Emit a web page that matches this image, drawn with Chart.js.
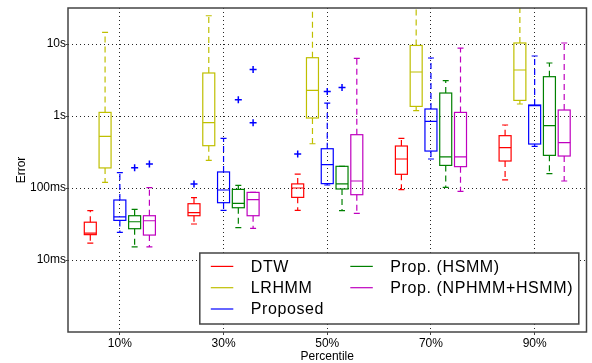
<!DOCTYPE html>
<html><head><meta charset="utf-8">
<script src="https://cdn.jsdelivr.net/npm/chart.js@4/dist/chart.umd.min.js"></script>
<style>html,body{margin:0;padding:0;background:#fff}#wrap{width:592px;height:363px}</style>
</head><body><div id="wrap"><canvas id="c" width="592" height="363"></canvas></div>
<script>
// ---- data (values in milliseconds) ----
const percentiles = [10, 30, 50, 70, 90];
const percentileLabels = ['10%', '30%', '50%', '70%', '90%'];
const yTickValues = [10, 100, 1000, 10000];
const yTickLabels = ['10ms', '100ms', '1s', '10s'];
const seriesNames = ['DTW', 'LRHMM', 'Proposed', 'Prop. (HSMM)', 'Prop. (NPHMM+HSMM)'];
const seriesColors = ['#ff0000', '#bfbf00', '#0000ff', '#008000', '#bf00bf'];
// each row: [whiskerLow, q1, median, q3, whiskerHigh] for one percentile
const dtw = [
  [17.2, 22.5, 23.6, 33.5, 48.4],
  [31.6, 41.2, 45.4, 60.5, 73.3],
  [48.9, 74.1, 100, 114, 156],
  [94.7, 155, 253, 383, 489],
  [130, 237, 363, 533, 750]
];
const lrhmm = [
  [120, 190, 521, 1122, 14500],
  [242, 387, 807, 3956, 24700],
  [412, 938, 2268, 6450, 60000],
  [1185, 1359, 4083, 9550, 60000],
  [1468, 1647, 4355, 10330, 60000]
];
const proposed = [
  [24.2, 35.5, 39.6, 68.1, 163],
  [48.9, 62.5, 93.8, 167, 489],
  [110, 115, 211, 351, 1514],
  [253, 326, 841, 1251, 6390],
  [378, 408, 1390, 1422, 6810]
];
const propHsmm = [
  [15.2, 27.2, 34.0, 41.2, 50.5],
  [28.1, 53.2, 61.1, 95.6, 109],
  [48.4, 96.9, 114, 200, 200],
  [102, 206, 270, 2085, 3090],
  [158, 284, 733, 3515, 5445]
];
const propNphmmHsmm = [
  [15.2, 22.2, 35.1, 41.2, 101],
  [27.5, 41.2, 68.8, 86.9, 86.9],
  [44.4, 80.7, 125, 550, 6310],
  [89.7, 198, 270, 1122, 8790],
  [125, 278, 426, 1211, 10330]
];
// outliers: [percentileIndex, seriesIndex, value]
const fliers = [
  [0, 3, 191], [0, 4, 215],
  [1, 0, 114], [1, 3, 1683], [1, 4, 4440], [1, 4, 807],
  [2, 0, 297], [2, 2, 2196], [2, 3, 2496]
];
const seriesStats = [dtw, lrhmm, proposed, propHsmm, propNphmmHsmm];

// ---- layout/style ----
const seriesOffset = [-5.7, -2.85, 0, 2.85, 5.7]; // x-units within a group
const BOX_HALF = 6, CAP_HALF = 3;
const FONT = "'Liberation Sans', Arial, sans-serif";

const boxPlugin = {
  id: 'boxes',
  beforeDatasetsDraw(chart) {
    const ctx = chart.ctx, xs = chart.scales.x, ys = chart.scales.y, a = chart.chartArea;
    ctx.save();
    ctx.beginPath(); ctx.rect(a.left, a.top, a.right - a.left, a.bottom - a.top); ctx.clip();
    seriesStats.forEach((stats, si) => {
      ctx.strokeStyle = seriesColors[si];
      ctx.lineWidth = 1.2;
      stats.forEach((s, pi) => {
        const cx = xs.getPixelForValue(percentiles[pi] + seriesOffset[si]);
        const [lo, q1, med, q3, hi] = s.map(v => ys.getPixelForValue(v));
        ctx.setLineDash([6, 4]);
        ctx.beginPath();
        ctx.moveTo(cx, q3); ctx.lineTo(cx, hi);
        ctx.moveTo(cx, q1); ctx.lineTo(cx, lo);
        ctx.stroke();
        ctx.setLineDash([]);
        ctx.beginPath();
        ctx.moveTo(cx - CAP_HALF, hi); ctx.lineTo(cx + CAP_HALF, hi);
        ctx.moveTo(cx - CAP_HALF, lo); ctx.lineTo(cx + CAP_HALF, lo);
        ctx.stroke();
        ctx.strokeRect(cx - BOX_HALF, q3, BOX_HALF * 2, q1 - q3);
        ctx.beginPath();
        ctx.moveTo(cx - BOX_HALF, med); ctx.lineTo(cx + BOX_HALF, med);
        ctx.stroke();
      });
    });
    ctx.restore();
  },
  afterDraw(chart) {
    const ctx = chart.ctx, a = chart.chartArea;
    ctx.save();
    ctx.strokeStyle = '#444'; ctx.lineWidth = 1.5;
    ctx.strokeRect(a.left, a.top, a.right - a.left, a.bottom - a.top);
    const lw = 379, lh = 71;
    const lx = a.right - 7.7 - lw, ly = a.bottom - 8 - lh;
    ctx.fillStyle = '#fff';
    ctx.fillRect(lx, ly, lw, lh);
    ctx.strokeStyle = '#444'; ctx.lineWidth = 1.5;
    ctx.strokeRect(lx, ly, lw, lh);
    ctx.font = '16px ' + FONT;
    try { ctx.letterSpacing = '0.6px'; } catch (e) {}
    ctx.textBaseline = 'middle';
    ctx.fillStyle = '#000';
    seriesNames.forEach((name, i) => {
      const col = i < 3 ? 0 : 1, row = i < 3 ? i : i - 3;
      const colX = col === 0 ? 0 : 139.5;
      const y = ly + 13.4 + row * 21.3;
      ctx.strokeStyle = seriesColors[i]; ctx.lineWidth = 1.2;
      ctx.beginPath();
      ctx.moveTo(lx + 11 + colX, y); ctx.lineTo(lx + 33.5 + colX, y);
      ctx.stroke();
      ctx.fillText(name, lx + 51 + colX, y + 1);
    });
    ctx.restore();
  }
};

new Chart(document.getElementById('c'), {
  type: 'scatter',
  data: {
    datasets: [{
      label: 'outliers',
      data: fliers.map(f => ({ x: percentiles[f[0]] + seriesOffset[f[1]], y: f[2] })),
      pointStyle: 'cross',
      pointRadius: 3.5,
      borderColor: '#0000ff',
      borderWidth: 1.5
    }]
  },
  options: {
    responsive: false,
    animation: false,
    layout: { padding: { top: 8, right: 2, left: 0, bottom: 0 } },
    plugins: { legend: { display: false }, tooltip: { enabled: false } },
    scales: {
      x: {
        type: 'linear', min: 0, max: 100,
        afterBuildTicks: s => { s.ticks = percentiles.map(v => ({ value: v })); },
        afterFit: s => { s.height = 31; },
        ticks: {
          autoSkip: false, maxRotation: 0, padding: 1, color: '#000',
          font: { family: FONT, size: 12 },
          callback: v => percentileLabels[percentiles.indexOf(v)]
        },
        grid: { color: 'rgba(0,0,0,0.85)', lineWidth: 1, tickLength: 3, tickColor: '#444' },
        border: { display: false, dash: [1, 3] },
        title: { display: true, text: 'Percentile', color: '#000', font: { family: FONT, size: 12 }, padding: { top: 0, bottom: -1 } }
      },
      y: {
        type: 'logarithmic', min: 1, max: 31622.8,
        afterBuildTicks: s => { s.ticks = yTickValues.map(v => ({ value: v })); },
        afterFit: s => { s.width = 68; },
        ticks: {
          autoSkip: false, padding: 0, color: '#000',
          font: { family: FONT, size: 12 },
          callback: v => yTickLabels[yTickValues.indexOf(v)]
        },
        grid: { color: 'rgba(0,0,0,0.85)', lineWidth: 1, tickLength: 2, tickColor: '#444' },
        border: { display: false, dash: [1, 3] },
        title: { display: true, text: 'Error', color: '#000', font: { family: FONT, size: 12 }, padding: { top: 14, bottom: 0 } }
      }
    }
  },
  plugins: [boxPlugin]
});
</script></body></html>
